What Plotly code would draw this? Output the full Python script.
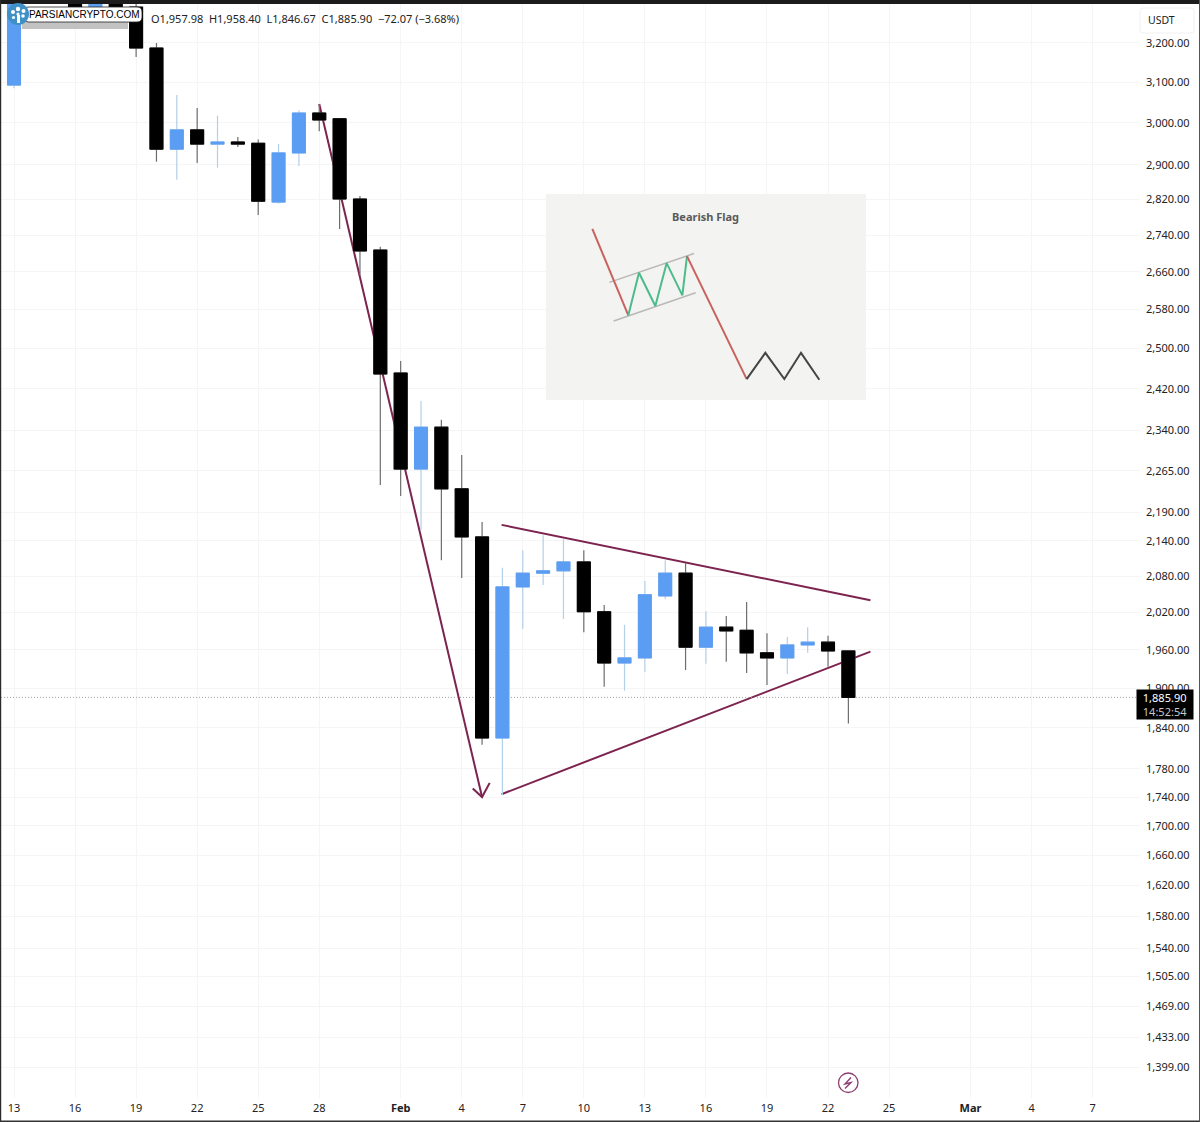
import plotly.graph_objects as go

# ---------- candle data ----------
dates = ["2025-01-13","2025-01-16","2025-01-17","2025-01-18","2025-01-19","2025-01-20","2025-01-21","2025-01-22",
         "2025-01-23","2025-01-24","2025-01-25","2025-01-26","2025-01-27","2025-01-28","2025-01-29","2025-01-30",
         "2025-01-31","2025-02-01","2025-02-02","2025-02-03","2025-02-04","2025-02-05","2025-02-06","2025-02-07",
         "2025-02-08","2025-02-09","2025-02-10","2025-02-11","2025-02-12","2025-02-13","2025-02-14","2025-02-15",
         "2025-02-16","2025-02-17","2025-02-18","2025-02-19","2025-02-20","2025-02-21","2025-02-22","2025-02-23"]
opens  = [3093,3340,3294,3340,3294,3187,2937,2983,2949,2954,2951,2814,2928,3024,3010,2821,
          2707,2451,2268,2346,2232,2147,1825,2062,2085,2089,2104,2021,1939,1947,2047,2085,
          1964,1996,1991,1955,1947,1967.5,1972,1957.98]
highs  = [3380,3380,3380,3380,3380,3200,3068,3036,3017,2966,2960,2949,3031,3046,3012,2828,
          2714,2475,2396,2360,2294,2173,2094,2124,2150,2144,2124,2032,2000,2072,2107,2102,
          2022,2014,2037,1986,1980,1996,1982,1958.40]
lows   = [3085,3290,3290,3290,3164,2907,2865,2904,2893,2942,2785,2810,2897,2980,2753.5,2653,
          2239,2219,2159,2107,2077,1815,1743,1993,2065,2009,1988,1902,1896,1925,2042,1928,
          1938,1941,1923.5,1905,1922,1955,1933,1846.67]
closes = [3360,3294,3340,3294,3187,2937,2983,2949,2954,2949,2816,2928,3024,3007,2821,2705,
          2449,2268,2346,2232,2147,1825,2062,2085,2089,2104,2021,1939,1947,2049,2085,1964,
          1996,1990,1955,1947,1967.5,1972,1958,1885.90]

# ---------- axis ticks ----------
price_ticks = [3200,3100,3000,2900,2820,2740,2660,2580,2500,2420,2340,2265,2190,2140,2080,2020,1960,1900,
               1840,1780,1740,1700,1660,1620,1580,1540,1505,1469,1433,1399]
date_ticks = ["2025-01-13","2025-01-16","2025-01-19","2025-01-22","2025-01-25","2025-01-28","2025-02-01",
              "2025-02-04","2025-02-07","2025-02-10","2025-02-13","2025-02-16","2025-02-19","2025-02-22",
              "2025-02-25","2025-03-01","2025-03-04","2025-03-07"]
date_labels = ["13","16","19","22","25","28","<b>Feb</b>","4","7","10","13","16","19","22","25","<b>Mar</b>","4","7"]

# ---------- drawn trend lines ----------
arrow_x = ["2025-01-28","2025-02-05"]
arrow_y = [3046,1740]
barb_x = ["2025-02-04 13:00","2025-02-05","2025-02-05 09:00"]
barb_y = [1752,1740,1760]
upper_x = ["2025-02-05 23:00","2025-02-24 02:00"]
upper_y = [2168,2040]
lower_x = ["2025-02-05 23:00","2025-02-24 02:00"]
lower_y = [1744,1957]
last_price = 1885.90

# ---------- inset "Bearish Flag" drawing (in its own unit grid) ----------
inset_bg_x, inset_bg_y = [18,978,978,18,18], [25,25,645,645,25]
red1_x, red1_y = [157,265], [130,390]
green_x, green_y = [265,297,346,380,427,441], [390,262,362,233,330,212]
chan_up_x, chan_up_y = [208,462], [291,204]
chan_lo_x, chan_lo_y = [221,467], [407,322]
red2_x, red2_y = [441,620], [212,582]
dark_x, dark_y = [620,676,733,783,838], [582,503,582,503,584]

W, H = 1200, 1122
ML, MR, MT, MB = 1, 60, 4, 24
PW, PH = W-ML-MR, H-MT-MB
def px(x): return (x-ML)/PW
def py(y): return 1-(y-MT)/PH

FONT = "Noto Sans"
MAROON = "#7d2350"
BLUE, BLUE_WICK = "#5b9df3", "#b4cfe8"

fig = go.Figure()

# trend lines below the candles
for xs, ys in [(arrow_x, arrow_y), (barb_x, barb_y), (upper_x, upper_y), (lower_x, lower_y)]:
    fig.add_trace(go.Scatter(x=xs, y=ys, mode="lines", line=dict(color=MAROON, width=2),
                             hoverinfo="skip", showlegend=False, zorder=0))
fig.add_trace(go.Scatter(x=["2025-01-10","2025-03-12"], y=[last_price,last_price], mode="lines",
                         line=dict(color="#a0a0a0", width=1, dash="1px,2px"),
                         hoverinfo="skip", showlegend=False, zorder=0))

# wicks
fig.add_trace(go.Candlestick(x=dates, open=opens, high=highs, low=lows, close=closes,
    increasing=dict(line=dict(color=BLUE_WICK, width=1.2), fillcolor=BLUE_WICK),
    decreasing=dict(line=dict(color="#6e6e6e", width=1.2), fillcolor="#6e6e6e"),
    whiskerwidth=0, hoverinfo="skip", showlegend=False, zorder=1))
# bodies
body_hi = [max(a, b) for a, b in zip(opens, closes)]
body_lo = [min(a, b) for a, b in zip(opens, closes)]
fig.add_trace(go.Candlestick(x=dates, open=opens, high=body_hi, low=body_lo, close=closes,
    increasing=dict(line=dict(color=BLUE, width=1), fillcolor=BLUE),
    decreasing=dict(line=dict(color="#000000", width=1), fillcolor="#000000"),
    whiskerwidth=0, hoverinfo="skip", showlegend=False, zorder=2))

# inset
inset = dict(xaxis="x2", yaxis="y2", mode="lines", hoverinfo="skip", showlegend=False, zorder=3)
fig.add_trace(go.Scatter(x=inset_bg_x, y=inset_bg_y, fill="toself", fillcolor="#f3f3f1",
                         line=dict(color="#f3f3f1", width=0), **inset))
fig.add_trace(go.Scatter(x=chan_up_x, y=chan_up_y, line=dict(color="#b8b8b8", width=1.5), **inset))
fig.add_trace(go.Scatter(x=chan_lo_x, y=chan_lo_y, line=dict(color="#b8b8b8", width=1.5), **inset))
fig.add_trace(go.Scatter(x=red1_x, y=red1_y, line=dict(color="#c9625e", width=2), **inset))
fig.add_trace(go.Scatter(x=green_x, y=green_y, line=dict(color="#4dbb8c", width=2), **inset))
fig.add_trace(go.Scatter(x=red2_x, y=red2_y, line=dict(color="#c9625e", width=2), **inset))
fig.add_trace(go.Scatter(x=dark_x, y=dark_y, line=dict(color="#454545", width=2), **inset))

def rounded(x0, y0, x1, y1, r):
    return (f"M {px(x0+r)},{py(y0)} L {px(x1-r)},{py(y0)} Q {px(x1)},{py(y0)} {px(x1)},{py(y0+r)} "
            f"L {px(x1)},{py(y1-r)} Q {px(x1)},{py(y1)} {px(x1-r)},{py(y1)} "
            f"L {px(x0+r)},{py(y1)} Q {px(x0)},{py(y1)} {px(x0)},{py(y1-r)} "
            f"L {px(x0)},{py(y0+r)} Q {px(x0)},{py(y0)} {px(x0+r)},{py(y0)} Z")

shapes = [
    # window frame
    dict(type="rect", xref="paper", yref="paper", x0=px(0), x1=px(1200), y0=py(4), y1=py(0),
         fillcolor="#1c1c1c", line_width=0, layer="above"),
    dict(type="rect", xref="paper", yref="paper", x0=px(0), x1=px(1.2), y0=py(1122), y1=py(0),
         fillcolor="#2a2a2a", line_width=0, layer="above"),
    dict(type="rect", xref="paper", yref="paper", x0=px(0), x1=px(1200), y0=py(1122), y1=py(1120.4),
         fillcolor="#333333", line_width=0, layer="above"),
    dict(type="rect", xref="paper", yref="paper", x0=px(1199), x1=px(1200), y0=py(1122), y1=py(0),
         fillcolor="#555555", line_width=0, layer="above"),
    # USDT box
    dict(type="path", xref="paper", yref="paper", path=rounded(1140, 8, 1194, 33, 3),
         fillcolor="#ffffff", line=dict(color="#f0f0f0", width=1), layer="above"),
    # logo
    dict(type="rect", xref="paper", yref="paper", x0=px(22), x1=px(128), y0=py(29), y1=py(18),
         fillcolor="#c2c2c2", line_width=0, layer="above"),
    dict(type="path", xref="paper", yref="paper", path=rounded(24, 7, 142, 22, 5),
         fillcolor="#ffffff", line=dict(color="#222222", width=0.8), layer="above"),
    dict(type="circle", xref="paper", yref="paper", x0=px(7), x1=px(29), y0=py(25), y1=py(3),
         fillcolor="#3f90c6", line_width=0, layer="above"),
    dict(type="rect", xref="paper", yref="paper", x0=px(17), x1=px(20), y0=py(23), y1=py(15),
         fillcolor="#ffffff", line_width=0, layer="above"),
]
for cx, cy, r in [(13,12,2),(18,9,2.2),(23.5,11,2),(13.5,17.5,1.6),(23,16,1.8),(18,14,1.6)]:
    shapes.append(dict(type="circle", xref="paper", yref="paper", x0=px(cx-r), x1=px(cx+r),
                       y0=py(cy+r), y1=py(cy-r), fillcolor="#ffffff", line_width=0, layer="above"))
# lightning badge
shapes.append(dict(type="circle", xref="paper", yref="paper", x0=px(838.5), x1=px(858), y0=py(1092.5), y1=py(1073),
                   fillcolor="#ffffff", line=dict(color="#8d3f6f", width=1.3), layer="above"))
bolt = [(851,1077.5),(845,1084),(851,1082.5),(845,1088.5)]
path = "M " + " L ".join(f"{px(a)},{py(b)}" for a, b in bolt)
shapes.append(dict(type="path", xref="paper", yref="paper", path=path,
                   line=dict(color="#8d3f6f", width=1.4), layer="above"))

annotations = [
    dict(xref="paper", yref="paper", x=px(149), y=py(19), xanchor="left", yanchor="middle", showarrow=False,
         text="O1,957.98&#160;&#160;H1,958.40&#160;&#160;L1,846.67&#160;&#160;C1,885.90&#160;&#160;\u221272.07 (\u22123.68%)",
         font=dict(family=FONT, size=11, color="#222222")),
    dict(xref="paper", yref="paper", x=px(84.5), y=py(15), xanchor="center", yanchor="middle", showarrow=False,
         text="PARSIANCRYPTO.COM", font=dict(family="Liberation Sans", size=10, color="#000000")),
    dict(xref="paper", yref="paper", x=px(1161.5), y=py(20), xanchor="center", yanchor="middle", showarrow=False,
         text="USDT", font=dict(family=FONT, size=10.5, color="#222222")),
    dict(xref="paper", yref="paper", x=px(1165), y=py(704.5), xanchor="center", yanchor="middle", showarrow=False,
         text="1,885.90<br><span style='color:#c8c8c8'>14:52:54</span>",
         font=dict(family=FONT, size=11, color="#ffffff"), bgcolor="#000000", borderpad=1, width=54, height=27,
         align="center"),
    dict(xref="x2", yref="y2", x=497, y=93, xanchor="center", yanchor="middle", showarrow=False,
         text="<b>Bearish Flag</b>", font=dict(family=FONT, size=11, color="#5a5a5a")),
]

fig.update_layout(
    width=W, height=H, margin=dict(l=ML, r=MR, t=MT, b=MB, autoexpand=False),
    paper_bgcolor="#ffffff", plot_bgcolor="#ffffff",
    boxmode="overlay", boxgap=0.09, showlegend=False,
    shapes=shapes, annotations=annotations,
    font=dict(family=FONT, size=11, color="#222222"),
    xaxis=dict(type="date", range=["2025-01-12 08:40","2025-03-09 07:55"], rangeslider=dict(visible=False),
               tickmode="array", tickvals=date_ticks, ticktext=date_labels, ticklen=0, ticklabelstandoff=2,
               showgrid=True, gridcolor="#f5f5f5", gridwidth=1, zeroline=False, showline=False,
               tickfont=dict(family=FONT, size=11, color="#222222")),
    yaxis=dict(type="log", side="right", range=[3.13494, 3.51883],
               autorange=False, tickmode="array", tickvals=price_ticks,
               ticktext=[f"{p:,.2f}" for p in price_ticks], ticklen=0, ticklabelstandoff=5,
               showgrid=True, gridcolor="#f5f5f5", gridwidth=1, zeroline=False, showline=False,
               tickfont=dict(family=FONT, size=11, color="#222222")),
    xaxis2=dict(domain=[px(546), px(866)], range=[18, 978], anchor="y2", visible=False, fixedrange=True),
    yaxis2=dict(domain=[py(400), py(194)], range=[645, 25], anchor="x2", visible=False, fixedrange=True),
)

fig.write_html("out.html", config={"displayModeBar": False}, post_script="document.body.style.margin='0';")
